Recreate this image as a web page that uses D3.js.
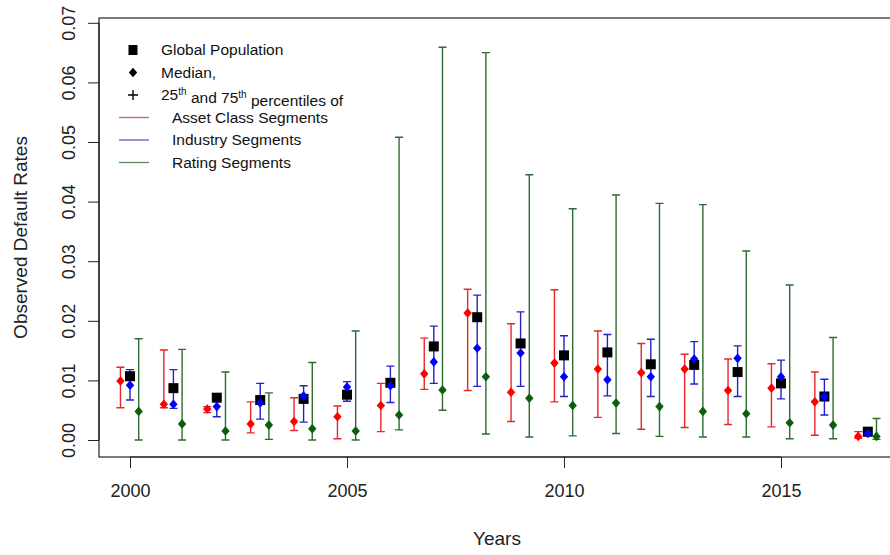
<!DOCTYPE html>
<html>
<head>
<meta charset="utf-8">
<script src="https://cdn.jsdelivr.net/npm/d3@7"></script>
<style>
  html, body { margin: 0; padding: 0; background: #fff; }
  svg { display: block; font-family: "Liberation Sans", Arial, sans-serif; }
</style>
</head>
<body>
<svg id="chart" width="890" height="555"></svg>
<script>
// Observed default rates by year: global population plus the median and
// 25th/75th percentiles across asset class, industry and rating segments.
const years = [2000, 2001, 2002, 2003, 2004, 2005, 2006, 2007, 2008,
               2009, 2010, 2011, 2012, 2013, 2014, 2015, 2016, 2017];

const globalRate = [0.0107, 0.0087, 0.0071, 0.0067, 0.0069, 0.0076, 0.0096, 0.0157, 0.0206,
                    0.0162, 0.0142, 0.0147, 0.0127, 0.0126, 0.0114, 0.0095, 0.0073, 0.0014];

const assetLow  = [0.0054, 0.0054, 0.0046, 0.0012, 0.0016, 0.0002, 0.0014, 0.0085, 0.0083,
                   0.0031, 0.0064, 0.0038, 0.0018, 0.0021, 0.0026, 0.0022, 0.0008, 0.0003];
const assetMed  = [0.0099, 0.0060, 0.0052, 0.0027, 0.0031, 0.0039, 0.0058, 0.0111, 0.0213,
                   0.0080, 0.0129, 0.0119, 0.0113, 0.0119, 0.0083, 0.0087, 0.0064, 0.0006];
const assetHigh = [0.0122, 0.0151, 0.0056, 0.0064, 0.0071, 0.0057, 0.0095, 0.0171, 0.0253,
                   0.0195, 0.0252, 0.0183, 0.0162, 0.0144, 0.0136, 0.0128, 0.0114, 0.0014];

const industryLow  = [0.0067, 0.0053, 0.0039, 0.0035, 0.0030, 0.0065, 0.0063, 0.0095, 0.0090,
                      0.0090, 0.0073, 0.0074, 0.0073, 0.0094, 0.0073, 0.0069, 0.0042, 0.0007];
const industryMed  = [0.0092, 0.0060, 0.0056, 0.0062, 0.0074, 0.0089, 0.0091, 0.0131, 0.0154,
                      0.0146, 0.0106, 0.0101, 0.0106, 0.0136, 0.0137, 0.0106, 0.0073, 0.0011];
const industryHigh = [0.0118, 0.0118, 0.0074, 0.0095, 0.0091, 0.0098, 0.0124, 0.0191, 0.0243,
                      0.0215, 0.0175, 0.0177, 0.0169, 0.0165, 0.0158, 0.0134, 0.0102, 0.0016];

const ratingLow  = [0.0000, 0.0000, 0.0000, 0.0001, 0.0000, 0.0000, 0.0017, 0.0050, 0.0010,
                    0.0005, 0.0007, 0.0011, 0.0006, 0.0005, 0.0005, 0.0002, 0.0002, 0.0001];
const ratingMed  = [0.0048, 0.0027, 0.0015, 0.0025, 0.0019, 0.0015, 0.0042, 0.0084, 0.0106,
                    0.0070, 0.0058, 0.0062, 0.0056, 0.0048, 0.0044, 0.0029, 0.0025, 0.0006];
const ratingHigh = [0.0170, 0.0152, 0.0114, 0.0079, 0.0130, 0.0183, 0.0508, 0.0659, 0.0650,
                    0.0445, 0.0388, 0.0411, 0.0397, 0.0395, 0.0317, 0.0260, 0.0172, 0.0036];

const yTicks = [0, 0.01, 0.02, 0.03, 0.04, 0.05, 0.06, 0.07];
const xTicks = [2000, 2005, 2010, 2015];

const segments = [
  { name: "Asset Class Segments", low: assetLow, med: assetMed, high: assetHigh,
    offset: -0.22, line: "#e8262a", point: "#ff0000", legendLine: "#dc5a5c" },
  { name: "Industry Segments", low: industryLow, med: industryMed, high: industryHigh,
    offset: 0.0, line: "#2222c8", point: "#0000ff", legendLine: "#5a5ab8" },
  { name: "Rating Segments", low: ratingLow, med: ratingMed, high: ratingHigh,
    offset: 0.2, line: "#2f6b30", point: "#0b5e0b", legendLine: "#5c8a5c" }
];

const svg = d3.select("#chart");
const frame = { left: 99, right: 896, top: 18, bottom: 457 };

const x = d3.scaleLinear().domain([2000, 2015]).range([130, 781]);
const y = d3.scaleLinear().domain([0, 0.07]).range([440, 22.8]);

// plot frame (right edge runs past the window)
svg.append("rect")
  .attr("x", frame.left).attr("y", frame.top)
  .attr("width", frame.right - frame.left).attr("height", frame.bottom - frame.top)
  .attr("fill", "none").attr("stroke", "#222").attr("stroke-width", 1.2);

// axes
const yAxis = svg.append("g")
  .attr("transform", `translate(${frame.left},0)`)
  .call(d3.axisLeft(y).tickValues(yTicks).tickSize(11).tickFormat(d3.format(".2f")));
yAxis.select(".domain").attr("d", `M0,${y(0)}V${y(0.07)}`).attr("stroke", "#222");
yAxis.selectAll(".tick line").attr("stroke", "#222");
yAxis.selectAll(".tick text")
  .attr("x", null).attr("dy", null)
  .attr("transform", "translate(-24,0) rotate(-90)")
  .attr("text-anchor", "middle")
  .style("font-size", "18px").attr("fill", "#222");

const xAxis = svg.append("g")
  .attr("transform", `translate(0,${frame.bottom})`)
  .call(d3.axisBottom(x).tickValues(xTicks).tickSize(11).tickFormat(d3.format("d")));
xAxis.select(".domain").attr("d", `M${x(2000)},0H${x(2015)}`).attr("stroke", "#222");
xAxis.selectAll(".tick line").attr("stroke", "#222");
xAxis.selectAll(".tick text")
  .attr("y", 40).attr("dy", null)
  .style("font-size", "18px").attr("fill", "#222");

svg.selectAll(".domain").attr("stroke-width", 1.2);

// axis titles
svg.append("text")
  .attr("transform", `translate(27,${(frame.top + frame.bottom) / 2}) rotate(-90)`)
  .attr("text-anchor", "middle")
  .style("font-size", "19px").attr("fill", "#222")
  .text("Observed Default Rates");

svg.append("text")
  .attr("x", 497).attr("y", 545)
  .attr("text-anchor", "middle")
  .style("font-size", "19px").attr("fill", "#222")
  .text("Years");

const cap = 4;
const plot = svg.append("g");

// percentile whiskers
segments.forEach(s => {
  const g = plot.append("g").attr("stroke", s.line).attr("stroke-width", 1.4).attr("fill", "none");
  years.forEach((yr, i) => {
    const cx = x(yr + s.offset);
    const y0 = y(s.low[i]), y1 = y(s.high[i]);
    g.append("path")
      .attr("d", `M${cx},${y0}V${y1}M${cx - cap},${y0}H${cx + cap}M${cx - cap},${y1}H${cx + cap}`);
  });
});

// global population rate
plot.append("g").selectAll("rect")
  .data(years)
  .join("rect")
  .attr("x", (d) => x(d) - 5)
  .attr("y", (d, i) => y(globalRate[i]) - 5)
  .attr("width", 10).attr("height", 10)
  .attr("fill", "#000");

// segment medians
const diamond = "M0,-4.8L4.2,0L0,4.8L-4.2,0Z";
segments.forEach(s => {
  plot.append("g").selectAll("path")
    .data(years)
    .join("path")
    .attr("d", diamond)
    .attr("transform", (d, i) => `translate(${x(d + s.offset)},${y(s.med[i])})`)
    .attr("fill", s.point);
});

// legend
const legend = svg.append("g").style("font-size", "15.5px").attr("fill", "#111");
const lx = 133, tx = 161, rows = [50, 72.5, 95, 117.5, 140, 162.5];

legend.append("rect").attr("x", lx - 4.5).attr("y", rows[0] - 5).attr("width", 9).attr("height", 10).attr("fill", "#000");
legend.append("path").attr("d", diamond).attr("transform", `translate(${lx},${rows[1]})`).attr("fill", "#000");
legend.append("path").attr("d", `M${lx - 5},${rows[2]}H${lx + 5}M${lx},${rows[2] - 5}V${rows[2] + 5}`)
  .attr("stroke", "#000").attr("stroke-width", 1.4);

legend.append("text").attr("x", tx).attr("y", rows[0]).attr("dy", "0.35em").text("Global Population");
legend.append("text").attr("x", tx).attr("y", rows[1]).attr("dy", "0.35em").text("Median,");
const pct = legend.append("text").attr("x", tx).attr("y", rows[2]).attr("dy", "0.35em");
pct.append("tspan").text("25");
pct.append("tspan").attr("dy", "-0.5em").style("font-size", "10px").text("th");
pct.append("tspan").attr("dy", "0.5em").text(" and 75");
pct.append("tspan").attr("dy", "-0.5em").style("font-size", "10px").text("th");
pct.append("tspan").attr("dy", "0.5em").text(" percentiles of");

segments.forEach((s, k) => {
  const ry = rows[3 + k];
  legend.append("line").attr("x1", 119).attr("x2", 149).attr("y1", ry).attr("y2", ry)
    .attr("stroke", s.legendLine).attr("stroke-width", 1.3);
  legend.append("text").attr("x", 172).attr("y", ry).attr("dy", "0.35em").text(s.name);
});
</script>
</body>
</html>
